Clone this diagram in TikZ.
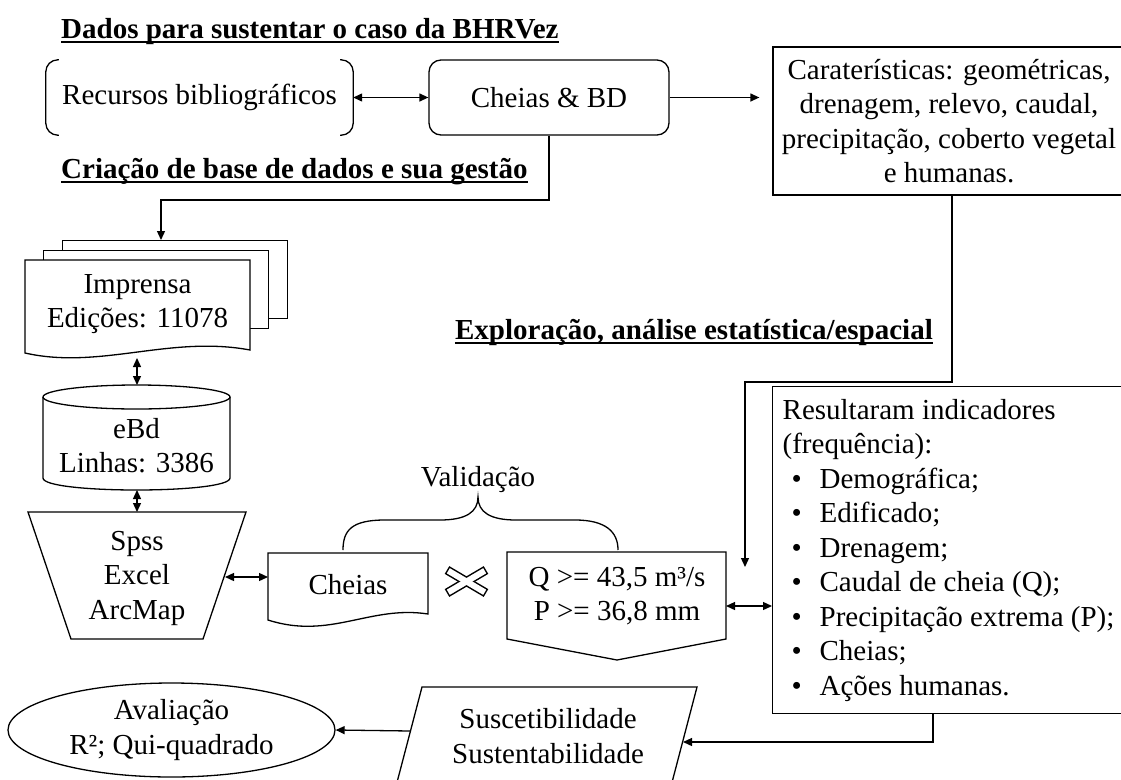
\documentclass[tikz,border=0pt]{standalone}
\usepackage{fontspec}
\setmainfont{Liberation Serif}
\usetikzlibrary{arrows.meta,shapes.geometric,calc}
\newcommand\bitem{\makebox[37pt][l]{\hspace{9pt}•}}
\begin{document}
\begin{tikzpicture}[x=1pt,y=-1pt,
  txt/.style={font=\fontsize{29pt}{34.5pt}\selectfont, inner sep=0pt, align=center},
  hd/.style={font=\fontsize{29pt}{34.5pt}\selectfont\bfseries, inner sep=0pt},
  ln/.style={line width=1.3pt},
  arr/.style={ln,-{Triangle[length=9pt,width=8pt]}},
  darr/.style={ln,{Triangle[length=9pt,width=8pt]}-{Triangle[length=9pt,width=8pt]}},
  shp/.style={ln, fill=white},
]
\fill[white] (0,0) rectangle (1121,779);
\useasboundingbox (0,0) rectangle (1121,779);

% headings
\node[hd, anchor=base west] (h1) at (61,38) {Dados para sustentar o caso da BHRVez};
\draw[ln] ([yshift=-4pt]h1.base west) -- ([yshift=-4pt]h1.base east);
\node[hd, anchor=base west] (h2) at (61,178) {Criação de base de dados e sua gestão};
\draw[ln] ([yshift=-4pt]h2.base west) -- ([yshift=-4pt]h2.base east);
\node[hd, anchor=base east] (h3) at (933,339) {Exploração, análise estatística/espacial};
\draw[ln] ([yshift=-4pt]h3.base west) -- ([yshift=-4pt]h3.base east);

% Recursos (bracket box)
\node[txt, minimum width=307pt, minimum height=75pt] (rec) at (199.5,97.5) {Recursos bibliográficos};
\draw[ln, rounded corners=12pt] ([xshift=13pt]rec.north west) -- (rec.north west) -- (rec.south west) -- ([xshift=13pt]rec.south west);
\draw[ln, rounded corners=12pt] ([xshift=-13pt]rec.north east) -- (rec.north east) -- (rec.south east) -- ([xshift=-13pt]rec.south east);

% Cheias & BD
\node[txt, draw, ln, rounded corners=12pt, minimum width=240pt, minimum height=75pt] (cbd) at (549,97.5) {Cheias \& BD};

% Caracteristicas
\node[txt, draw, ln, minimum width=352pt, minimum height=148pt] (car) at (949,121) {Caraterísticas: geométricas,\\drenagem, relevo, caudal,\\precipitação, coberto vegetal\\e humanas.};

\draw[darr] (rec.east) -- (cbd.west);
\draw[arr, shorten >=13pt] (cbd.east) -- (cbd.east -| car.west);

% Imprensa stack
\node[shp, draw, minimum width=225pt, minimum height=78pt, anchor=north west] (imp3) at (62,240) {};
\node[shp, draw, minimum width=225pt, minimum height=78pt, anchor=north west] (imp2) at (43,250) {};
\draw[shp] (25,260) -- (250,260) -- (250,350) .. controls (170,335) and (100,370) .. (25,353) -- cycle;
\node[txt] (imp) at (137.5,304) {Imprensa\\Edições: 11078};
\coordinate (impb) at (137,358);

\coordinate (c1) at (161,200);
\draw[arr] (cbd.south) |- (c1) -- (c1 |- imp3.north);

% eBd cylinder
\draw[shp] (43,397) -- (43,478) .. controls (43,494) and (230,494) .. (230,478) -- (230,397);
\draw[ln] (136.5,397) ellipse [x radius=93.5, y radius=12];
\node[txt] (ebd) at (136.5,445.5) {eBd\\Linhas: 3386};
\coordinate (ebdt) at (137,385);
\coordinate (ebdb) at (137,490);
\draw[darr] (impb) -- (ebdt);

% Spss trapezoid
\draw[shp] (28,512) -- (246,512) -- (203,639) -- (71,639) -- cycle;
\node[txt] (sps) at (137,578) {Spss\\Excel\\ArcMap};
\coordinate (spst) at (137,512);
\coordinate (spsr) at (225,577);
\draw[darr] (ebdb) -- (spst);

% Cheias document
\draw[shp] (268,553) -- (428,553) -- (428,614) .. controls (370,605) and (330,640) .. (268,620) -- cycle;
\node[txt] (chs) at (348,585) {Cheias};
\coordinate (chsl) at (268,577);
\draw[darr] (spsr) -- (chsl);

% cross symbol
\node (xsym) at (466.5,581.5) {};
\draw[line width=9pt] (447,570) -- (486,593);
\draw[line width=9pt] (447,593) -- (486,570);
\draw[white, line width=6pt, shorten <=1.5pt, shorten >=1.5pt] (447,570) -- (486,593);
\draw[white, line width=6pt, shorten <=1.5pt, shorten >=1.5pt] (447,593) -- (486,570);

% Q/P pentagon
\draw[shp] (507,552) -- (726,552) -- (726,639) -- (617,660) -- (507,639) -- cycle;
\node[txt] (qp) at (617,596) {Q >= 43,5 m³/s\\P >= 36,8 mm};
\coordinate (qpr) at (726,606);

% brace
\draw[ln] (343,550) .. controls (343,530) and (352,520) .. (385,520) -- (440,520) .. controls (466,520) and (478,512) .. (478,497) .. controls (478,512) and (490,520) .. (516,520) -- (575,520) .. controls (606,520) and (618,532) .. (618,550);
\node[txt] (val) at (478,480) {Validação};

% Resultaram
\node[txt, draw, ln, anchor=north west, minimum width=362pt, minimum height=327pt, text width=342pt, inner xsep=10pt, align=flush left] (res) at (772,386) {Resultaram indicadores\\(frequência):\\\bitem Demográfica;\\\bitem Edificado;\\\bitem Drenagem;\\\bitem Caudal de cheia (Q);\\\bitem Precipitação extrema (P);\\\bitem Cheias;\\\bitem Ações humanas.};
\draw[darr] (qpr) -- (qpr -| res.west);

\coordinate (c2) at (745,382);
\coordinate (c3) at (745,567);
\draw[arr] ([xshift=3pt]car.south) |- (c2) -- (c3);

% Suscetibilidade parallelogram
\draw[shp] (422,687) -- (697,687) -- (670,790) -- (395,790) -- cycle;
\node[txt] (sus) at (548,736) {Suscetibilidade\\Sustentabilidade};
\coordinate (susr) at (683,742);
\coordinate (susl) at (410.5,731);
\draw[arr] (933,713) |- (susr);

% Avaliacao ellipse
\node[txt, draw, ln, ellipse, minimum width=327pt, minimum height=94pt] (ava) at (171.5,730) {Avaliação\\R²; Qui-quadrado};
\draw[arr] (susl) -- (ava.east);
\end{tikzpicture}
\end{document}
